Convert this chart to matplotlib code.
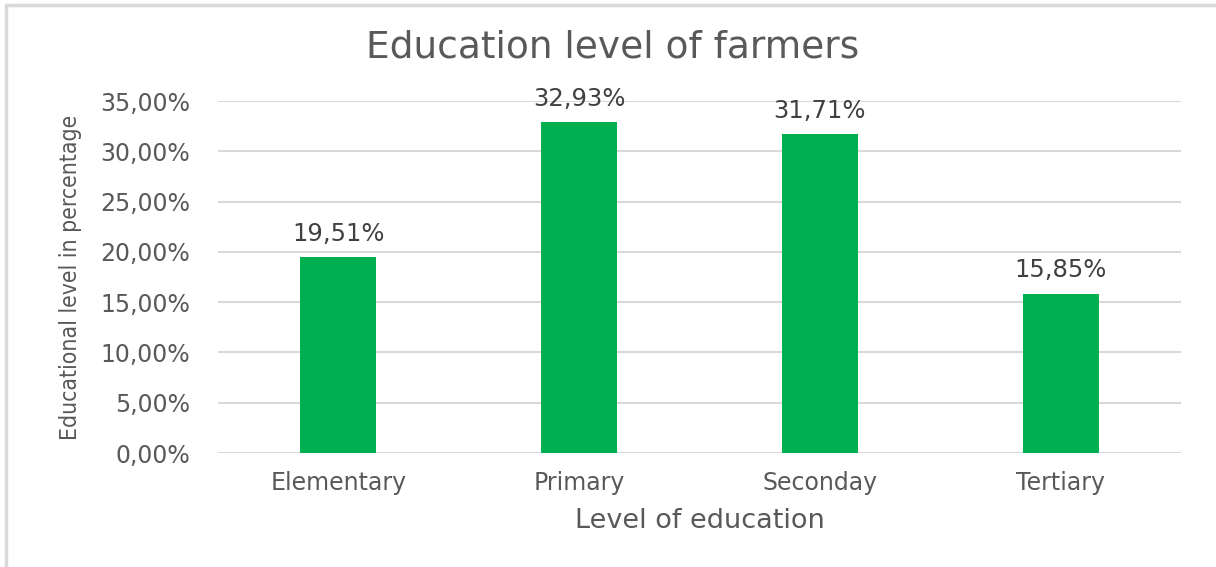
import matplotlib.pyplot as plt
from matplotlib.patches import Rectangle
from matplotlib.ticker import FuncFormatter
import numpy as np

categories = ['Elementary', 'Primary', 'Seconday', 'Tertiary']
values = [19.51, 32.93, 31.71, 15.85]
yticks = [0, 5, 10, 15, 20, 25, 30, 35]

plt.rcParams['font.family'] = ['DejaVu Sans']

fig = plt.figure(figsize=(12.16, 5.67), dpi=100)
ax = fig.add_axes([218 / 1216, 1 - 453 / 567, 963 / 1216, 352 / 567])

x = np.arange(len(categories))
bars = ax.bar(x, values, width=0.316, color='#00B050', zorder=3)

for xi, v in zip(x, values):
    ax.annotate(('%.2f%%' % v).replace('.', ','), (xi, v), xytext=(0, 8),
                textcoords='offset points', ha='center', va='bottom',
                fontsize=17.5, color='#404040')

ax.set_xlim(-0.5, len(categories) - 0.5)
ax.set_ylim(0, 35)
ax.set_yticks(yticks)
ax.yaxis.set_major_formatter(FuncFormatter(lambda v, p: ('%.2f%%' % v).replace('.', ',')))
ax.set_xticks(x)
ax.set_xticklabels(categories)
ax.tick_params(axis='both', length=0, labelsize=17, colors='#595959')
ax.tick_params(axis='y', pad=20)
ax.tick_params(axis='x', pad=13)
ax.grid(axis='y', color='#D9D9D9', linewidth=1.5, zorder=0)
for s in ax.spines.values():
    s.set_visible(False)

ax.set_xlabel('Level of education', fontsize=19.5, color='#595959', labelpad=9)
ax.set_ylabel('Educational level in percentage', fontsize=16.5, color='#595959',
              fontstretch='condensed', labelpad=13)

fig.text(613 / 1216, 1 - 48 / 567, 'Education level of farmers', ha='center', va='center',
         fontsize=27, color='#595959')

fig.patches.append(Rectangle((6 / 1216, -0.05), 1.1, 1 - 5 / 567 + 0.05,
                             transform=fig.transFigure, fill=False,
                             edgecolor='#D9D9D9', linewidth=2.5))

fig.savefig('out.png', dpi=100)
